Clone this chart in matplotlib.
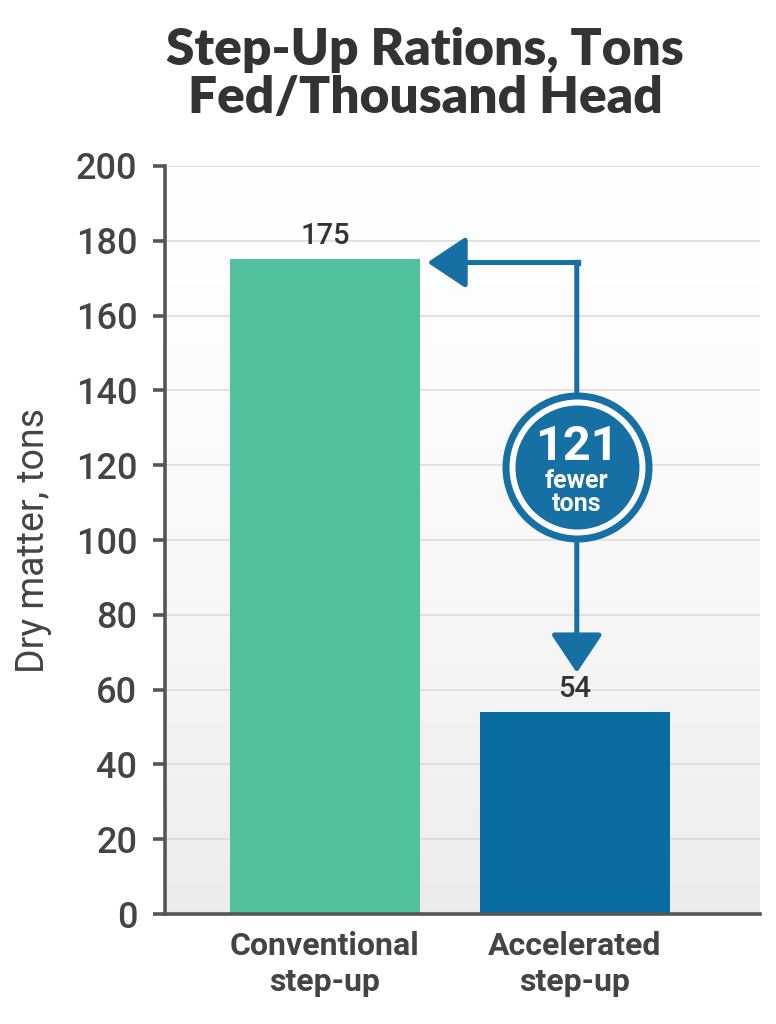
import matplotlib.pyplot as plt
import numpy as np

categories = ["Conventional\nstep-up", "Accelerated\nstep-up"]
values = [175, 54]
bar_colors = ["#52c19d", "#0a6da2"]
difference = values[0] - values[1]
yticks = np.arange(0, 201, 20)

title = "Step-Up Rations, Tons\nFed/Thousand Head"
ylabel = "Dry matter, tons"

arrow_blue = "#1670a3"
text_dark = "#444444"

fig = plt.figure(figsize=(7.76, 10.24), dpi=100)
ax = fig.add_axes([0.2126, 0.1074, 0.7664, 0.7305])

x = np.arange(len(categories))
xlim = (-0.64, 1.74)
ylim = (0, 200)

# soft gray gradient at the bottom of the plot area
g = np.linspace(0, 1, 256)
shade = 1 - 0.075 * (1 - g) ** 1.6
grad = np.dstack([shade, shade, shade])[0][:, None, :] * np.ones((1, 2, 1))
ax.imshow(grad, extent=[xlim[0], xlim[1], ylim[0], ylim[1]], origin="lower",
          aspect="auto", zorder=0)

ax.set_axisbelow(True)
ax.grid(axis="y", color="#dcdcdc", linewidth=1.2, zorder=1)
ax.bar(x, values, width=0.76, color=bar_colors, zorder=2)

ax.set_xlim(*xlim)
ax.set_ylim(*ylim)
ax.set_yticks(yticks)
ax.set_xticks(x)
ax.set_xticklabels(categories, fontsize=23, fontweight="bold", color=text_dark,
                   family="Roboto", linespacing=1.25)
ax.tick_params(axis="x", length=0, pad=12)
ax.tick_params(axis="y", length=9, width=2.6, color="#555555", labelsize=26,
               labelcolor=text_dark, pad=11)
for lab in ax.get_yticklabels():
    lab.set_family("Roboto")
    lab.set_fontweight("medium")

for s in ["top", "right"]:
    ax.spines[s].set_visible(False)
for s in ["left", "bottom"]:
    ax.spines[s].set_linewidth(2.6)
    ax.spines[s].set_color("#555555")

for xi, v in zip(x, values):
    ax.text(xi, v + 2.5, str(v), ha="center", va="bottom", fontsize=21,
            fontweight="medium", color="#333333", family="Roboto")

ax.set_ylabel(ylabel, fontsize=27, color=text_dark, family="Roboto")
ax.yaxis.set_label_coords(-0.19, 0.5)

fig.text(0.548, 0.928, title, ha="center", va="center", fontsize=37,
         fontweight="heavy", color="#333333", family="Lato", linespacing=1.05)

# difference arrow
cx = 1.008
top_y = values[0] - 0.8
ax.annotate("", xy=(0.41, top_y), xytext=(cx, top_y),
            arrowprops=dict(arrowstyle="-|>,head_length=24,head_width=16",
                            mutation_scale=1, color=arrow_blue, lw=3.6,
                            shrinkA=0, shrinkB=0), zorder=4)
ax.annotate("", xy=(cx, values[1] + 10.5), xytext=(cx, top_y),
            arrowprops=dict(arrowstyle="-|>,head_length=24,head_width=16",
                            mutation_scale=1, color=arrow_blue, lw=3.6,
                            shrinkA=0, shrinkB=0), zorder=4)
ax.plot([cx], [top_y], marker="s", markersize=3.6, color=arrow_blue, zorder=4)

cy = 119.5
ax.scatter([cx], [cy], s=(2 * 75 * 0.72) ** 2, color=arrow_blue, zorder=5, linewidths=0)
ax.scatter([cx], [cy], s=(2 * 68 * 0.72) ** 2, color="white", zorder=6, linewidths=0)
ax.scatter([cx], [cy], s=(2 * 62 * 0.72) ** 2, color=arrow_blue, zorder=7, linewidths=0)
ax.text(cx, cy + 5.5, str(difference), ha="center", va="center", fontsize=35,
        fontweight="bold", color="white", family="Roboto", zorder=8)
ax.text(cx, cy - 3.8, "fewer", ha="center", va="center", fontsize=18,
        fontweight="bold", color="white", family="Roboto", zorder=8)
ax.text(cx, cy - 9.8, "tons", ha="center", va="center", fontsize=18,
        fontweight="bold", color="white", family="Roboto", zorder=8)

fig.savefig("out.png", dpi=100)
